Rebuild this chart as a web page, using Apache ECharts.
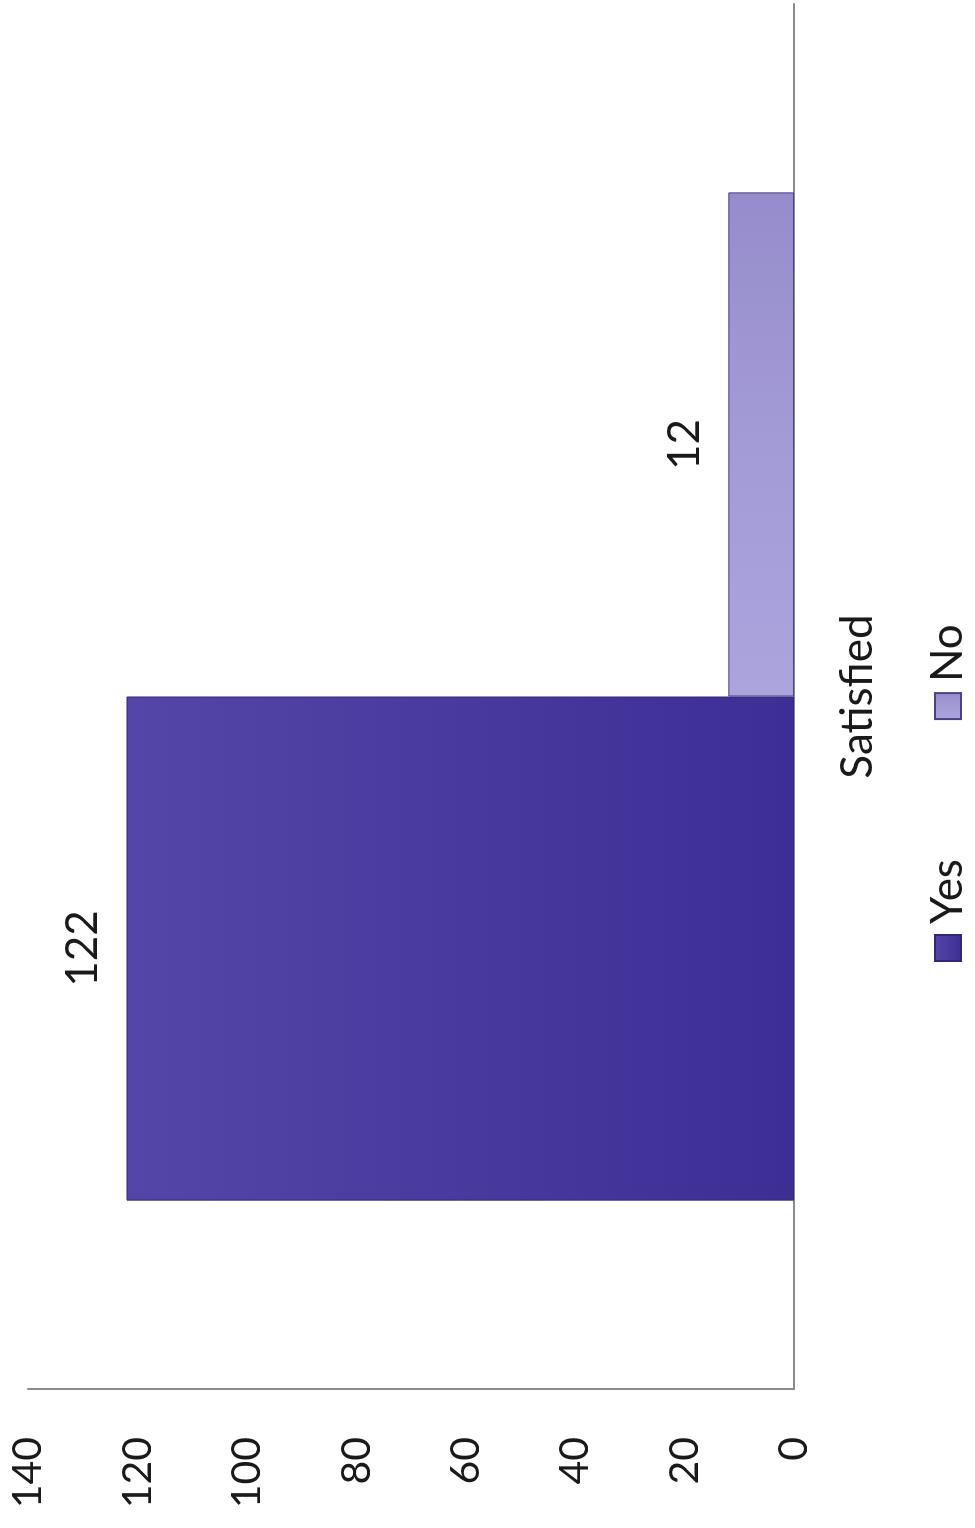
<!DOCTYPE html>
<html><head><meta charset="utf-8">
<script src="https://cdn.jsdelivr.net/npm/echarts@6/dist/echarts.min.js"></script>
<style>
html,body{margin:0;padding:0;background:#fff;width:975px;height:1528px;overflow:hidden;}
#wrap{position:absolute;left:0;top:0;width:1528px;height:975px;transform-origin:0 0;transform:translate(0,1528px) rotate(-90deg);}
#chart{width:1528px;height:975px;}
</style></head>
<body><div id="wrap"><div id="chart"></div></div>
<script>
const categories = ['Satisfied'];
const seriesNames = ['Yes', 'No'];
const yesValues = [122];
const noValues = [12];
const valueTicks = [0, 20, 40, 60, 80, 100, 120, 140];

const FONT = 'Lato';
const TXT = '#1a1a1a';

const chart = echarts.init(document.getElementById('chart'), null, {renderer: 'canvas'});
chart.setOption({
  backgroundColor: '#ffffff',
  animation: false,
  grid: {left: 139, right: 4, top: 28, bottom: 181, containLabel: false},
  legend: {
    data: seriesNames,
    left: 561, top: 921,
    itemWidth: 26, itemHeight: 26, itemGap: 139,
    icon: 'rect',
    textStyle: {fontFamily: FONT, fontSize: 44, color: TXT, padding: [0, 0, 0, 6]}
  },
  xAxis: {
    type: 'category',
    data: categories,
    axisLine: {show: true, lineStyle: {color: '#8a8a8a', width: 2}},
    axisTick: {show: false},
    axisLabel: {fontFamily: FONT, fontSize: 44, color: TXT, margin: 42}
  },
  yAxis: {
    type: 'value',
    min: valueTicks[0],
    max: valueTicks[valueTicks.length - 1],
    interval: valueTicks[1] - valueTicks[0],
    axisLine: {show: true, lineStyle: {color: '#8a8a8a', width: 2}},
    axisTick: {show: false},
    splitLine: {show: false},
    axisLabel: {fontFamily: FONT, fontSize: 41, color: TXT, margin: 48}
  },
  series: [
    {
      name: seriesNames[0], type: 'bar', data: yesValues,
      barGap: '0%', barCategoryGap: '27.2%',
      itemStyle: {
        color: new echarts.graphic.LinearGradient(0, 0, 0, 1, [
          {offset: 0, color: '#5445a8'}, {offset: 1, color: '#3d2e96'}
        ]),
        borderColor: '#332878', borderWidth: 1
      },
      label: {show: true, position: 'top', distance: 22, fontFamily: FONT, fontSize: 44, color: TXT}
    },
    {
      name: seriesNames[1], type: 'bar', data: noValues,
      itemStyle: {
        color: new echarts.graphic.LinearGradient(0, 0, 1, 0, [
          {offset: 0, color: '#aba4dd'}, {offset: 0.5, color: '#a39bd6'}, {offset: 1, color: '#968ccc'}
        ]),
        borderColor: '#4a4285', borderWidth: 1
      },
      label: {show: true, position: 'top', distance: 22, fontFamily: FONT, fontSize: 44, color: TXT}
    }
  ]
});
</script>
</body></html>
